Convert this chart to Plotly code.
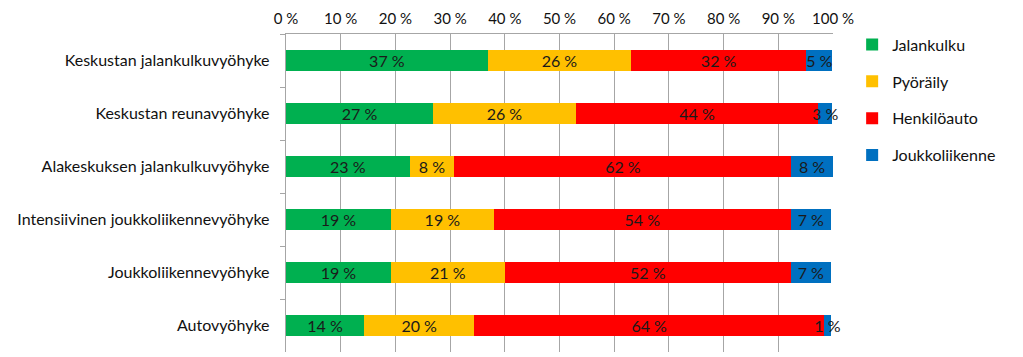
import plotly.graph_objects as go

categories = [
    "Keskustan jalankulkuvyöhyke",
    "Keskustan reunavyöhyke",
    "Alakeskuksen jalankulkuvyöhyke",
    "Intensiivinen joukkoliikennevyöhyke",
    "Joukkoliikennevyöhyke",
    "Autovyöhyke",
]
series_names = ["Jalankulku", "Pyöräily", "Henkilöauto", "Joukkoliikenne"]
jalankulku = [36.9, 26.9, 22.6, 19.2, 19.2, 14.3]
pyoraily = [26.2, 26.1, 8.2, 18.8, 20.8, 20.1]
henkiloauto = [32.0, 44.3, 61.6, 54.3, 52.3, 64.0]
joukkoliikenne = [4.8, 2.6, 7.55, 7.3, 7.3, 1.2]
colors = ["#00B050", "#FFC000", "#FF0000", "#0070C0"]
tick_vals = [0, 10, 20, 30, 40, 50, 60, 70, 80, 90, 100]
tick_text = [f"{v} %" for v in tick_vals]

FONT = "Lato, 'Open Sans', sans-serif"
FS = 16

fig = go.Figure()
for name, vals, col in zip(series_names, [jalankulku, pyoraily, henkiloauto, joukkoliikenne], colors):
    fig.add_trace(go.Bar(
        y=categories, x=vals, name=name, orientation="h",
        marker=dict(color=col, line=dict(width=0)),
        texttemplate="%{x:.0f} %", textposition="inside",
        insidetextanchor="middle", textangle=0,
        textfont=dict(family=FONT, size=FS, color="#1a1a1a"),
        legendgroup=name,
        cliponaxis=False,
    ))

fig.update_layout(
    width=1023, height=357,
    barmode="stack", bargap=0.6,
    margin=dict(l=278, r=198, t=26, b=13, autoexpand=False),
    paper_bgcolor="white", plot_bgcolor="white",
    font=dict(family=FONT, size=FS, color="#111"),
    uniformtext=dict(minsize=FS, mode="show"),
    showlegend=True,
    legend=dict(
        x=1.035, y=1.02, xanchor="left", yanchor="top",
        traceorder="grouped", tracegroupgap=13,
        font=dict(family=FONT, size=FS, color="#111"),
        itemwidth=30,
    ),
    xaxis=dict(
        side="top", range=[0, 100], tickvals=tick_vals, ticktext=tick_text,
        showgrid=True, gridcolor="#a6a6a6", gridwidth=1,
        showline=True, linecolor="#a6a6a6", linewidth=1,
        ticks="", zeroline=False, fixedrange=True, automargin=False,
        ticklabelstandoff=3,
        tickfont=dict(family=FONT, size=15, color="#111"),
    ),
    yaxis=dict(
        autorange="reversed", showline=True, linecolor="#a6a6a6", linewidth=1,
        ticks="outside", ticklen=5, tickcolor="#a6a6a6", tickson="boundaries",
        showgrid=False, ticksuffix="   ", automargin=False,
        tickfont=dict(family=FONT, size=FS, color="#111"),
    ),
)

fig.write_html("out.html")
